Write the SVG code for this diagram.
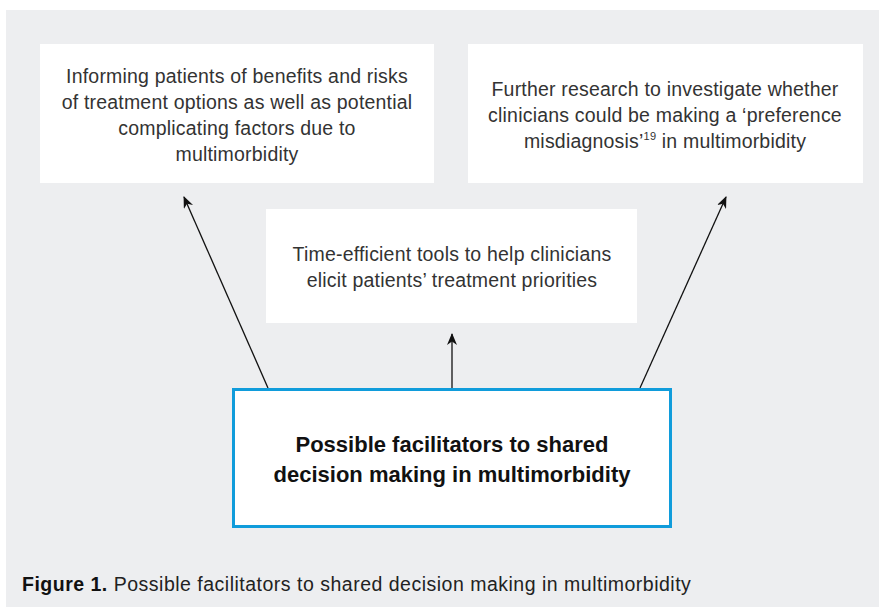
<svg xmlns="http://www.w3.org/2000/svg" width="879" height="610" viewBox="0 0 879 610">
<defs>
<style>
.box{fill:#ffffff}
.t{font-family:"Liberation Sans",Arial,sans-serif;font-size:19.5px;letter-spacing:0.2px;fill:#333333;text-anchor:middle}
.b{font-family:"Liberation Sans",Arial,sans-serif;font-size:22px;font-weight:bold;fill:#111111;text-anchor:middle}
.c{font-family:"Liberation Sans",Arial,sans-serif;font-size:19.5px;letter-spacing:0.5px;fill:#222222}
.ln{stroke:#111111;stroke-width:1.3;fill:none;marker-end:url(#ah)}
</style>
<marker id="ah" viewBox="0 0 12 10" refX="11" refY="5" markerWidth="12" markerHeight="10" markerUnits="userSpaceOnUse" orient="auto">
<path d="M0,0 L12,5 L0,10 L3.5,5 Z" fill="#111111"/>
</marker>
</defs>
<rect x="6" y="10" width="873" height="597" fill="#edeef0"/>
<g id="connectors">
<line class="ln" x1="268" y1="388" x2="184" y2="197"/>
<line class="ln" x1="452" y1="388" x2="452" y2="334"/>
<line class="ln" x1="640" y1="388" x2="726" y2="197"/>
</g>
<g id="node-left">
<rect class="box" x="40" y="44" width="394" height="139"/>
<text class="t" x="237" y="83">Informing patients of benefits and risks</text>
<text class="t" x="237" y="109">of treatment options as well as potential</text>
<text class="t" x="237" y="135">complicating factors due to</text>
<text class="t" x="237" y="161">multimorbidity</text>
</g>
<g id="node-right">
<rect class="box" x="468" y="44" width="395" height="139"/>
<text class="t" x="665" y="96">Further research to investigate whether</text>
<text class="t" x="665" y="122">clinicians could be making a ‘preference</text>
<text class="t" x="665" y="148">misdiagnosis’<tspan font-size="11" dy="-8">19</tspan><tspan dy="8"> in multimorbidity</tspan></text>
</g>
<g id="node-middle">
<rect class="box" x="266" y="209" width="371" height="114"/>
<text class="t" x="452" y="261">Time-efficient tools to help clinicians</text>
<text class="t" x="452" y="287">elicit patients’ treatment priorities</text>
</g>
<g id="node-main">
<rect x="233.5" y="389.5" width="437" height="137" fill="#ffffff" stroke="#109cdb" stroke-width="3"/>
<text class="b" x="452" y="452">Possible facilitators to shared</text>
<text class="b" x="452" y="482">decision making in multimorbidity</text>
</g>
<g id="caption">
<text class="c" x="22" y="591"><tspan font-weight="bold" fill="#111111">Figure 1.</tspan> Possible facilitators to shared decision making in multimorbidity</text>
</g>
</svg>
